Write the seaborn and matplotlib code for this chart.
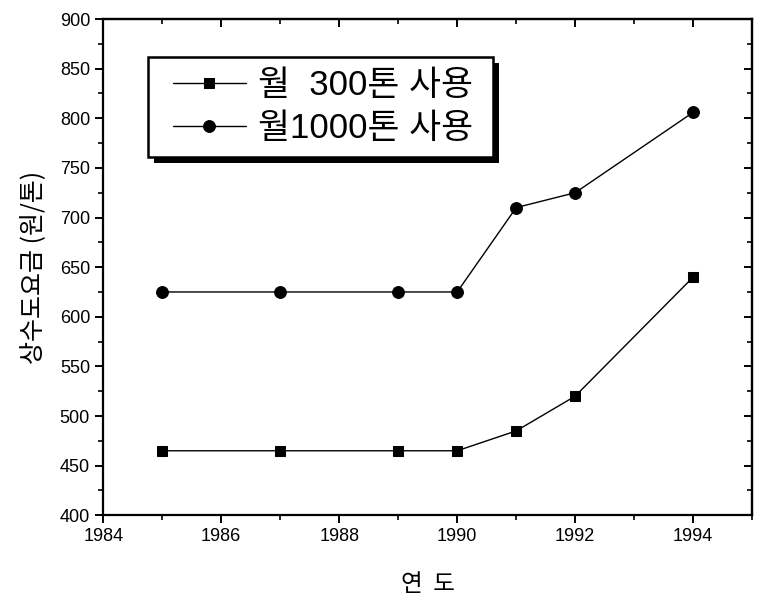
import matplotlib
matplotlib.use("Agg")
import matplotlib.pyplot as plt
import seaborn as sns
import pandas as pd
from matplotlib.ticker import MultipleLocator
from matplotlib.patches import Rectangle

years = [1985, 1987, 1989, 1990, 1991, 1992, 1994]
fee_300 = [465, 465, 465, 465, 485, 520, 640]
fee_1000 = [625, 625, 625, 625, 710, 725, 806]
label_300 = "월  300톤 사용"
label_1000 = "월1000톤 사용"
xlabel = "연  도"
ylabel = "상수도요금 (원/톤)"

sns.set_style("ticks")
plt.rcParams["font.family"] = ["Liberation Sans", "Noto Sans CJK KR", "DejaVu Sans"]
plt.rcParams["text.color"] = "black"
plt.rcParams["axes.labelcolor"] = "black"
plt.rcParams["xtick.color"] = "black"
plt.rcParams["ytick.color"] = "black"

df300 = pd.DataFrame({"year": years, "fee": fee_300})
df1000 = pd.DataFrame({"year": years, "fee": fee_1000})

W, H = 759, 595
fig = plt.figure(figsize=(W / 100, H / 100), dpi=100)
ax = fig.add_axes([0.136, 0.134, 0.855, 0.834])

sns.lineplot(data=df300, x="year", y="fee", ax=ax, color="black", marker="s",
             markersize=7, markeredgecolor="black", linewidth=1.0, label=label_300)
sns.lineplot(data=df1000, x="year", y="fee", ax=ax, color="black", marker="o",
             markersize=8.5, markeredgecolor="black", linewidth=1.0, label=label_1000)

ax.set_xlim(1984, 1995)
ax.set_ylim(400, 900)
ax.xaxis.set_major_locator(MultipleLocator(2))
ax.xaxis.set_minor_locator(MultipleLocator(1))
ax.yaxis.set_major_locator(MultipleLocator(50))
ax.yaxis.set_minor_locator(MultipleLocator(25))

for sp in ax.spines.values():
    sp.set_visible(True)
    sp.set_linewidth(1.6)
    sp.set_color("black")

ax.tick_params(which="both", direction="out", top=False, right=False, colors="black")
ax.tick_params(which="major", length=6, width=1.4, labelsize=13)
ax.tick_params(which="minor", length=3.5, width=1.2)

secx = ax.secondary_xaxis("top")
secx.xaxis.set_major_locator(MultipleLocator(2))
secx.xaxis.set_minor_locator(MultipleLocator(1))
secx.tick_params(which="both", direction="in", labeltop=False)
secx.tick_params(which="major", length=6, width=1.4)
secx.tick_params(which="minor", length=3.5, width=1.2)
secx.spines["top"].set_linewidth(1.6)

secy = ax.secondary_yaxis("right")
secy.yaxis.set_major_locator(MultipleLocator(50))
secy.yaxis.set_minor_locator(MultipleLocator(25))
secy.tick_params(which="both", direction="in", labelright=False)
secy.tick_params(which="major", length=6, width=1.4)
secy.tick_params(which="minor", length=3.5, width=1.2)
secy.spines["right"].set_linewidth(1.6)

ax.set_xlabel(xlabel, fontsize=17, family=["Noto Sans CJK KR"], labelpad=20)
ax.set_ylabel(ylabel, fontsize=18, family=["Noto Sans CJK KR"], labelpad=10)

# legend box (pixel extents of the frame)
bx0, bx1, by0, by1 = 148, 493, 57, 157
leg = ax.legend(loc="center left",
                bbox_to_anchor=(bx0 / W, 1 - (by0 + by1) / 2 / H),
                bbox_transform=fig.transFigure, borderaxespad=0,
                frameon=False,
                prop={"family": ["Liberation Sans", "Noto Sans CJK KR"], "size": 25},
                handlelength=2.1, handletextpad=0.35, borderpad=0.72, labelspacing=0.3)
leg.set_zorder(11)

frame = Rectangle((bx0 / W, 1 - by1 / H), (bx1 - bx0) / W, (by1 - by0) / H,
                  transform=fig.transFigure, facecolor="white", edgecolor="black",
                  linewidth=1.8, zorder=10, clip_on=False)
shadow = Rectangle(((bx0 + 6) / W, 1 - (by1 + 6) / H), (bx1 - bx0) / W, (by1 - by0) / H,
                   transform=fig.transFigure, facecolor="black", edgecolor="none",
                   zorder=9, clip_on=False)
ax.add_patch(shadow)
ax.add_patch(frame)

fig.savefig("out.png", dpi=100)
